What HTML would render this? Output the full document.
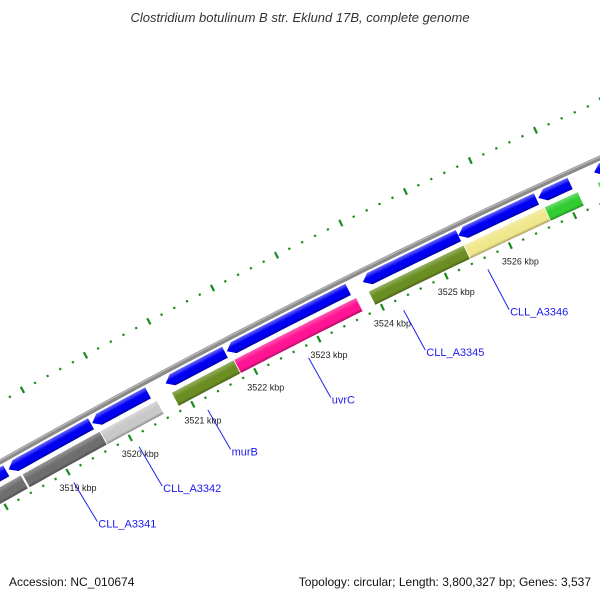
<!DOCTYPE html>
<html><head><meta charset="utf-8">
<style>
html,body{margin:0;padding:0;background:#fff;width:600px;height:600px;overflow:hidden;}
svg{display:block;font-family:"Liberation Sans","DejaVu Sans",sans-serif;overflow:hidden;}
</style></head>
<body>
<svg id="map" width="600" height="600" viewBox="0 0 600 600">
<rect width="600" height="600" fill="#fff"/>
<text x="300" y="22" text-anchor="middle" font-size="13" font-style="italic" fill="#333">Clostridium botulinum B str. Eklund 17B, complete genome</text>
<g id="ticks"></g>
<g id="backbone"></g>
<g id="genes"></g>
<g id="labels"></g>
<text x="9" y="586" font-size="12" fill="#111">Accession: NC_010674</text>
<text x="591" y="586" text-anchor="end" font-size="12" fill="#111">Topology: circular; Length: 3,800,327 bp; Genes: 3,537</text>
</svg>
<script>
// Forward strand genes (kbp start/end), blue arrows
const fwdStarts = [3517.3, 3518.29, 3519.63, 3520.8, 3521.77, 3523.91, 3525.4, 3526.64, 3527.5];
const fwdEnds   = [3518.25, 3519.61, 3520.52, 3521.74, 3523.68, 3525.4, 3526.61, 3527.13, 3528.2];
// Second track genes
const geneStarts = [3516.8, 3518.42, 3519.67, 3520.81, 3521.8, 3523.92, 3525.41, 3526.66, 3527.48];
const geneEnds   = [3518.4, 3519.67, 3520.58, 3521.8, 3523.73, 3525.45, 3526.67, 3527.18, 3528.3];
const geneColors = ["#6e6e6e", "#6e6e6e", "#c8c8c8", "#6b8e23", "#ff1493", "#6b8e23", "#f0e68c", "#32cd32", "#32cd32"];
// Tick labels
const tickKbp = [3519, 3520, 3521, 3522, 3523, 3524, 3525, 3526];
// Gene name annotations
const annNames = ["CLL_A3341", "CLL_A3342", "murB", "uvrC", "CLL_A3345", "CLL_A3346"];
const annKbp   = [3519.0, 3520.05, 3521.15, 3522.75, 3524.25, 3525.57];

const NS = "http://www.w3.org/2000/svg";
function circ(a,b,c){
  const d=2*(a[0]*(b[1]-c[1])+b[0]*(c[1]-a[1])+c[0]*(a[1]-b[1]));
  const s=p=>p[0]*p[0]+p[1]*p[1];
  const ux=(s(a)*(b[1]-c[1])+s(b)*(c[1]-a[1])+s(c)*(a[1]-b[1]))/d;
  const uy=(s(a)*(c[0]-b[0])+s(b)*(a[0]-c[0])+s(c)*(b[0]-a[0]))/d;
  return [ux,uy,Math.hypot(a[0]-ux,a[1]-uy)];
}
const [CX,CY,R0]=circ([0,462],[343,280],[600,158]);
const PXKB=71;
const R_TICK=R0-42;
const th0=Math.atan2(472-CY,68-CX);
function theta(k){return th0+(k-3519)*PXKB/R_TICK;}
function pt(k,off){const t=theta(k),r=R0-off;return [CX+r*Math.cos(t),CY+r*Math.sin(t)];}
function el(tag,attrs,parent){const e=document.createElementNS(NS,tag);for(const a in attrs)e.setAttribute(a,attrs[a]);parent.appendChild(e);return e;}
function arcPts(k1,k2,off){const n=Math.max(2,Math.ceil(Math.abs(k2-k1)*8));const a=[];for(let i=0;i<=n;i++)a.push(pt(k1+(k2-k1)*i/n,off));return a;}
const fmt=p=>p[0].toFixed(2)+","+p[1].toFixed(2);

const defs=el("defs",{},document.getElementById("map"));
let gid=0;
function grad(k,offOuter,offInner,c1,c2,c3){
  const a=pt(k,offOuter),b=pt(k,offInner);const id="g"+(gid++);
  const g=el("linearGradient",{id:id,gradientUnits:"userSpaceOnUse",x1:a[0],y1:a[1],x2:b[0],y2:b[1]},defs);
  el("stop",{offset:"0","stop-color":c1},g);el("stop",{offset:"0.4","stop-color":c2},g);
  el("stop",{offset:"0.78","stop-color":c2},g);el("stop",{offset:"1","stop-color":c3},g);
  return "url(#"+id+")";
}
function shade(hex,f){const n=parseInt(hex.slice(1),16);let r=n>>16,g=(n>>8)&255,b=n&255;
  const m=v=>f>0?Math.round(v+(255-v)*f):Math.round(v*(1+f));return "rgb("+m(r)+","+m(g)+","+m(b)+")";}

// backbone
const bb=document.getElementById("backbone");
const l1=el("polyline",{points:arcPts(3510,3530,0).map(fmt).join(" "),fill:"none",stroke:"#8a8a8a","stroke-width":5},bb);


const l2=el("polyline",{points:arcPts(3510,3530,-1.3).map(fmt).join(" "),fill:"none",stroke:"#b4b4b4","stroke-width":1.5},bb);



// ticks
const tg=document.getElementById("ticks");
for(let k10=35150;k10<=35290;k10+=2){
  const k=k10/10;const major=(k10%10===0);
  [42,-52].forEach(off=>{
    const len=major?7:2.2;
    const a=pt(k,off-len/2),b=pt(k,off+len/2);
    const t=el("line",{x1:a[0],y1:a[1],x2:b[0],y2:b[1],stroke:"#1a8a1a","stroke-width":2.2},tg);
    
    
  });
}
tickKbp.forEach(k=>{
  const p=pt(k,42);
  const t=el("text",{x:p[0]+10,y:p[1]+19,"text-anchor":"middle","font-size":"9",fill:"#222"},tg);
  t.textContent=k+" kbp";
  
  
});

// genes
const gg=document.getElementById("genes");
const O1=4.5,I1=17,HEAD=0.11;
fwdStarts.forEach((s,i)=>{
  const e=fwdEnds[i];
  const tip=pt(s,(O1+I1)/2);
  const poly=[tip].concat(arcPts(s+HEAD,e,O1)).concat(arcPts(e,s+HEAD,I1));
  const p=el("polygon",{points:poly.map(fmt).join(" "),fill:grad((s+e)/2,O1,I1,"#6a6aff","#0000f0","#0000a0")},gg);
  
  
});
const O2=21.5,I2=37;
geneStarts.forEach((s,i)=>{
  const e=geneEnds[i];const c=geneColors[i];
  const poly=arcPts(s,e,O2).concat(arcPts(e,s,I2));
  const p=el("polygon",{points:poly.map(fmt).join(" "),fill:grad((s+e)/2,O2,I2,shade(c,0.3),c,shade(c,-0.35)),stroke:"#fff","stroke-width":0.8},gg);
  
  
});

// annotations
const lg=document.getElementById("labels");
annNames.forEach((n,i)=>{
  const a=pt(annKbp[i],54),b=pt(annKbp[i],94);
  const ln=el("line",{x1:a[0],y1:a[1],x2:b[0]+4,y2:b[1]+4,stroke:"#2222ee","stroke-width":1},lg);
  
  
  const t=el("text",{x:b[0]+5,y:b[1]+10,"font-size":"11",fill:"#1a1aee"},lg);
  t.textContent=n;
  
  
});
</script>
</body></html>
